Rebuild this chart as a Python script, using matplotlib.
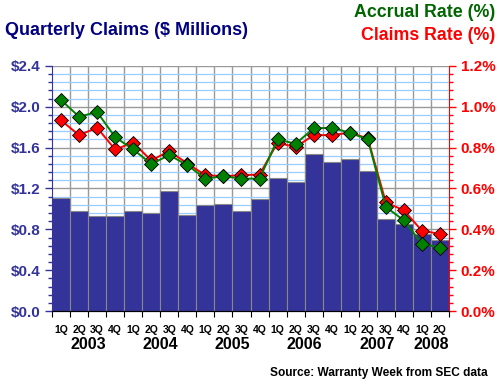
import matplotlib
matplotlib.use("Agg")
import matplotlib.pyplot as plt
import numpy as np
from matplotlib.ticker import MultipleLocator, FuncFormatter

quarters = ["1Q","2Q","3Q","4Q"]*5 + ["1Q","2Q"]
years = ["2003","2004","2005","2006","2007","2008"]
claims = [1.107,0.979,0.927,0.927,0.979,0.956,1.172,0.936,1.035,1.045,0.979,
          1.097,1.300,1.264,1.539,1.460,1.490,1.369,0.900,0.848,0.750,0.694]
accrual_rate = [1.033,0.951,0.974,0.851,0.791,0.720,0.763,0.714,0.648,0.660,0.648,
                0.648,0.840,0.819,0.894,0.897,0.873,0.840,0.509,0.444,0.329,0.311]
claims_rate = [0.933,0.861,0.897,0.791,0.824,0.737,0.783,0.722,0.665,0.660,0.665,
               0.668,0.824,0.802,0.861,0.861,0.873,0.845,0.532,0.493,0.393,0.378]

FONT = "Liberation Sans"
NAVY = "#333399"
plt.rcParams['font.family'] = FONT

fig = plt.figure(figsize=(5, 3.85), dpi=100)
ax = fig.add_axes([0.104, 0.192, 0.794, 0.637])
n = len(claims)
x = np.arange(n)
ax.set_xlim(-0.5, n - 0.5)
ax.set_ylim(0, 2.4)

# grid
ax.yaxis.set_major_locator(MultipleLocator(0.4))
ax.yaxis.set_minor_locator(MultipleLocator(0.08))
ax.grid(which='minor', axis='y', color='#99ccff', lw=0.9, zorder=0)
ax.grid(which='major', axis='y', color='#999999', lw=1.0, zorder=0)
for b in np.arange(0.5, n - 0.5, 1):
    ax.axvline(b, color='#999999', lw=1.0, zorder=0)

ax.bar(x, claims, width=1.0, color=NAVY, edgecolor='#888888', lw=0.8, zorder=2)

ax.yaxis.set_major_formatter(FuncFormatter(lambda v, p: f"${v:.1f}"))
ax.tick_params(axis='y', which='both', colors=NAVY, labelsize=11, direction='out')
ax.tick_params(axis='y', which='major', length=5, width=1)
ax.tick_params(axis='y', which='minor', length=3, width=1)
for lab in ax.get_yticklabels():
    lab.set_fontweight('bold')
ax.spines['left'].set_color(NAVY)
ax.spines['top'].set_visible(False)
ax.spines['right'].set_visible(False)
ax.spines['bottom'].set_color('#000000')

ax.set_xticks(np.arange(-0.5, n, 1))
ax.set_xticklabels([])
ax.tick_params(axis='x', length=4, color='black', direction='out')
for i, q in enumerate(quarters):
    ax.text(i, -0.055, q, transform=ax.get_xaxis_transform(), ha='center', va='top',
            fontsize=7.5, fontweight='bold')
year_pos = [1.5, 5.5, 9.5, 13.5, 17.5, 20.5]
for yp, yr in zip(year_pos, years):
    ax.text(yp, -0.105, yr, transform=ax.get_xaxis_transform(), ha='center', va='top',
            fontsize=11.5, fontweight='bold')

ax2 = ax.twinx()
ax2.set_ylim(0, 1.2)
ax2.yaxis.set_major_locator(MultipleLocator(0.2))
ax2.yaxis.set_minor_locator(MultipleLocator(0.04))
ax2.yaxis.set_major_formatter(FuncFormatter(lambda v, p: f"{v:.1f}%"))
ax2.tick_params(axis='y', which='both', colors='red', labelsize=11, direction='out')
ax2.tick_params(axis='y', which='major', length=5, width=1)
ax2.tick_params(axis='y', which='minor', length=3, width=1)
for lab in ax2.get_yticklabels():
    lab.set_fontweight('bold')
ax2.spines['right'].set_color('red')
ax2.spines['left'].set_visible(False)
ax2.spines['top'].set_visible(False)

ax2.plot(x, claims_rate, color='#ff0000', lw=1.4, marker='D', ms=7,
         mfc='#ff0000', mec='black', mew=0.6, zorder=3)
ax2.plot(x, accrual_rate, color='#008000', lw=1.4, marker='D', ms=7,
         mfc='#008000', mec='black', mew=0.6, zorder=4)

fig.text(0.01, 0.922, "Quarterly Claims ($ Millions)", color='#000080', fontsize=13,
         fontweight='bold', ha='left', va='center')
fig.text(0.99, 0.967, "Accrual Rate (%)", color='#006600', fontsize=12.8,
         fontweight='bold', ha='right', va='center')
fig.text(0.99, 0.907, "Claims Rate (%)", color='#ff0000', fontsize=12.8,
         fontweight='bold', ha='right', va='center')
fig.text(0.976, 0.031, "Source: Warranty Week from SEC data", color='black', fontsize=8.6,
         fontweight='bold', ha='right', va='center')

fig.savefig("out.png", dpi=100, facecolor='white')
